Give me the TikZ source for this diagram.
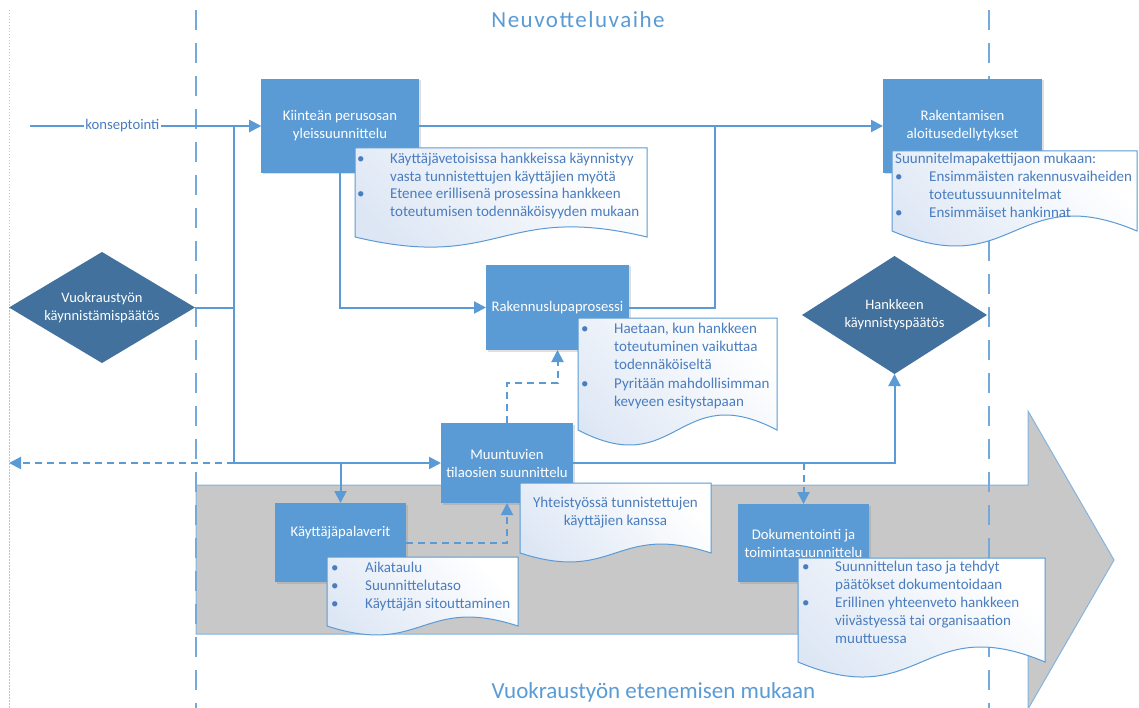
\documentclass[tikz,border=0pt]{standalone}
\usepackage{fontspec}
\setmainfont{Carlito}
\usetikzlibrary{arrows.meta,shapes.geometric,shadows}
\definecolor{boxblue}{HTML}{5B9BD5}
\definecolor{dkblue}{HTML}{41719C}
\definecolor{notetext}{HTML}{4A7DBF}
\definecolor{notefill}{HTML}{DCE6F4}
\definecolor{arrowgray}{HTML}{C8C8C8}
\definecolor{guidegray}{HTML}{C4C4C4}
\newcommand\docnote[5]{%
  \path[notebox] (#1,#2) -- (#3,#2) -- (#3,#4) .. controls ({(#1+#3)/2},{#4-#5}) and ({(#1+#3)/2},{#4+#5}) .. (#1,#4) -- cycle;}
\begin{document}
\begin{tikzpicture}[x=1pt,y=-1pt,
  boxnode/.style={draw=none, fill=boxblue, text=white, align=center, inner sep=0pt, outer sep=0pt,
    font=\fontsize{14.7}{18}\selectfont,
    drop shadow={shadow xshift=1.5pt, shadow yshift=-1.5pt, opacity=0.25}},
  decision/.style={diamond, fill=dkblue, text=white, align=center, inner sep=0pt, outer sep=0pt,
    font=\fontsize{14.5}{18}\selectfont},
  conn/.style={draw=boxblue, line width=2pt},
  dconn/.style={conn, dash pattern=on 7pt off 5pt},
  arrowend/.style={-{Triangle[length=12pt,width=12pt]}},
  guide/.style={draw=boxblue!85, line width=1.3pt, dash pattern=on 20pt off 13pt},
  notebox/.style={draw=boxblue, line width=1pt, top color=white, bottom color=notefill, shading angle=-45},
  notetxt/.style={anchor=north west, inner sep=0pt, align=left, text=notetext, font=\fontsize{15}{18}\selectfont},
  ttl/.style={anchor=base, text=boxblue, font=\fontsize{23}{28}\selectfont}
]
\useasboundingbox (0,0) rectangle (1139,708);
\fill[white] (0,0) rectangle (1139,708);

% guides and big arrow
\draw[guidegray, line width=1pt, dash pattern=on 1.5pt off 1.5pt] (9,10) -- (9,708);
\path[fill=arrowgray, draw=boxblue!75, line width=1pt] (196,485) -- (1028,485) -- (1028,411) -- (1114,560) -- (1028,709) -- (1028,634) -- (196,634) -- cycle;
\draw[guide] (196,10) -- (196,708);
\draw[guide] (989,10) -- (989,708);

% titles
\node[ttl, font=\fontsize{23}{28}\selectfont\addfontfeatures{LetterSpace=6.5}] (t1) at (578,28) {Neuvotteluvaihe};
\node[ttl] (t2) at (653.5,698) {Vuokraustyön etenemisen mukaan};

% boxes
\node[boxnode, minimum width=158pt, minimum height=94pt] (boxA) at (340,126) {Kiinteän perusosan\\yleissuunnittelu};
\node[boxnode, minimum width=159pt, minimum height=94pt] (boxB) at (962.5,126) {Rakentamisen\\aloitusedellytykset};
\node[boxnode, minimum width=143pt, minimum height=85pt] (boxC) at (557.5,307.5) {Rakennuslupaprosessi};
\node[boxnode, minimum width=132pt, minimum height=80pt] (boxE) at (507,463) {Muuntuvien\\tilaosien suunnittelu};
\node[boxnode, minimum width=131pt, minimum height=79pt] (boxF) at (340.5,542.5) {};
\node[text=white, inner sep=0pt, font=\fontsize{14.7}{18}\selectfont] (boxFtext) at (340.5,533) {Käyttäjäpalaverit};
\node[boxnode, minimum width=131pt, minimum height=78pt] (boxG) at (803.5,543) {Dokumentointi ja\\toimintasuunnittelu};

% decisions
\node[decision, minimum width=186pt, minimum height=111pt, aspect=1.68] (D1) at (102,307.5) {Vuokraustyön\\käynnistämispäätös};
\node[decision, minimum width=185pt, minimum height=118pt, aspect=1.57] (D2) at (894.5,315) {Hankkeen\\käynnistyspäätös};

% junction coordinates
\coordinate (kstart) at (30,126);
\coordinate (j1) at (234,307.5);
\coordinate (j2) at (715,126);
\coordinate (kleft) at (9,463);

% connectors
\draw[conn, arrowend] (kstart) -- node[pos=0.4, fill=white, text=notetext, inner sep=1.5pt, font=\fontsize{14.7}{18}\selectfont] (klabel) {konseptointi} (boxA.west);
\draw[conn] (D1.east) -- (j1);
\draw[conn, arrowend] (j1) |- (boxA.west);
\draw[conn, arrowend] (j1) |- (boxE.west);
\draw[conn, arrowend] (boxF.north |- boxE.west) -- (boxF.north);
\draw[conn, arrowend] (boxA.south) |- (boxC.west);
\draw[conn, arrowend] (boxA.east) -- (boxB.west);
\draw[conn] (boxC.east) -| (j2);
\draw[conn, arrowend] (boxE.east) -| (D2.south);
\draw[dconn, arrowend] (boxG.north |- boxE.east) -- (boxG.north);
\draw[dconn, arrowend] (boxE.north) -- ++(0,-40) -| (boxC.south);
\draw[dconn, arrowend] (boxF.east) -| (boxE.south);
\draw[dconn, arrowend] (j1 |- boxE.west) -- (kleft);

% note A
\docnote{355}{148}{647}{237}{35}
\node[notetxt] (nAb1) at (357,151) {\strut•};
\node[notetxt] (nA1) at (390,151) {\strut Käyttäjävetoisissa hankkeissa käynnistyy\\vasta tunnistettujen käyttäjien myötä};
\node[notetxt] (nAb2) at (357,186) {\strut•};
\node[notetxt] (nA2) at (390,186) {\strut Etenee erillisenä prosessina hankkeen\\toteutumisen todennäköisyyden mukaan};

% note B
\docnote{892}{151}{1137}{231}{52}
\node[notetxt] (nBh) at (895,151) {\strut Suunnitelmapakettijaon mukaan:};
\node[notetxt] (nBb1) at (895,169) {\strut•};
\node[notetxt] (nB1) at (929,169) {\strut Ensimmäisten rakennusvaiheiden\\toteutussuunnitelmat};
\node[notetxt] (nBb2) at (895,205) {\strut•};
\node[notetxt] (nB2) at (929,205) {\strut Ensimmäiset hankinnat};

% note C
\docnote{578}{318}{777}{430}{52}
\node[notetxt] (nCb1) at (581,321) {\strut•};
\node[notetxt] (nC1) at (614,321) {\strut Haetaan, kun hankkeen\\toteutuminen vaikuttaa\\todennäköiseltä};
\node[notetxt] (nCb2) at (581,376) {\strut•};
\node[notetxt] (nC2) at (614,376) {\strut Pyritään mahdollisimman\\kevyeen esitystapaan};

% note E
\docnote{520}{483}{711}{553}{31}
\node[text=notetext, align=center, inner sep=0pt, font=\fontsize{15}{18}\selectfont] (nE) at (615.5,512.5) {Yhteistyössä tunnistettujen\\käyttäjien kanssa};

% note F
\docnote{327}{557}{518}{626}{31}
\node[notetxt] (nFb) at (331,560) {\strut•\\•\\•};
\node[notetxt] (nF) at (365,560) {\strut Aikataulu\\Suunnittelutaso\\Käyttäjän sitouttaminen};

% note G
\docnote{798}{558}{1045}{662}{52}
\node[notetxt] (nGb1) at (802,559) {\strut•};
\node[notetxt] (nG1) at (835,559) {\strut Suunnittelun taso ja tehdyt\\päätökset dokumentoidaan};
\node[notetxt] (nGb2) at (802,595) {\strut•};
\node[notetxt] (nG2) at (835,595) {\strut Erillinen yhteenveto hankkeen\\viivästyessä tai organisaation\\muuttuessa};
\end{tikzpicture}
\end{document}
